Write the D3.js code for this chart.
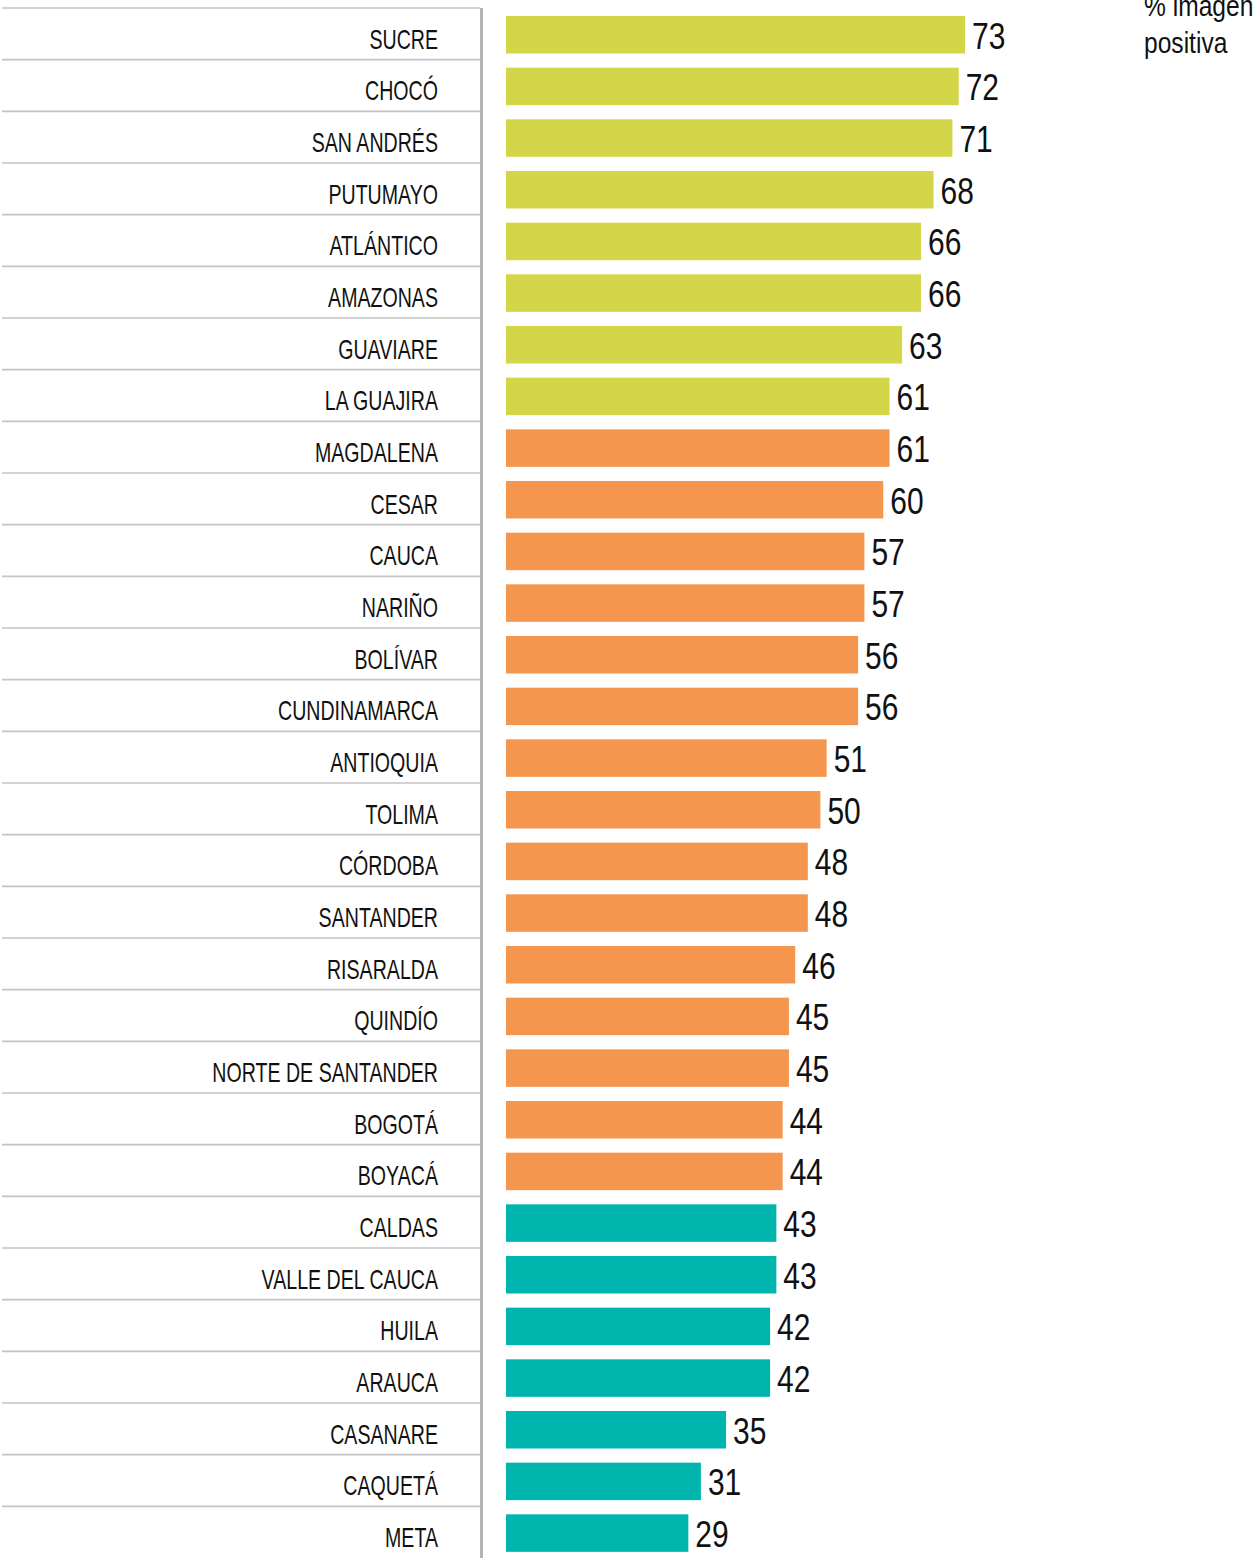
<!DOCTYPE html>
<html>
<head>
<meta charset="utf-8">
<script src="https://cdn.jsdelivr.net/npm/d3@7"></script>
<style>
  html, body { margin: 0; padding: 0; background: #fff; }
  svg { display: block; }
  text { font-family: "Liberation Sans", Arial, Helvetica, sans-serif; fill: #111; }
</style>
</head>
<body>
<svg id="chart" width="1259" height="1558"></svg>
<script>
const departments = ["SUCRE","CHOCÓ","SAN ANDRÉS","PUTUMAYO","ATLÁNTICO","AMAZONAS","GUAVIARE","LA GUAJIRA",
  "MAGDALENA","CESAR","CAUCA","NARIÑO","BOLÍVAR","CUNDINAMARCA","ANTIOQUIA","TOLIMA","CÓRDOBA","SANTANDER",
  "RISARALDA","QUINDÍO","NORTE DE SANTANDER","BOGOTÁ","BOYACÁ",
  "CALDAS","VALLE DEL CAUCA","HUILA","ARAUCA","CASANARE","CAQUETÁ","META"];
const positiveImage = [73,72,71,68,66,66,63,61, 61,60,57,57,56,56,51,50,48,48,46,45,45,44,44, 43,43,42,42,35,31,29];
const groups = ["high","high","high","high","high","high","high","high",
  "mid","mid","mid","mid","mid","mid","mid","mid","mid","mid","mid","mid","mid","mid","mid",
  "low","low","low","low","low","low","low"];
const groupNames = ["high","mid","low"];
const groupColors = ["#d4d64a","#f5964e","#00b5ad"];
const legendLines = ["% imagen", "positiva"];

const rows = departments.map((d, i) => ({ name: d, value: positiveImage[i], group: groups[i] }));

const svg = d3.select("#chart");
const y = d3.scaleBand().domain(departments).range([8, 1558]).paddingInner(0).paddingOuter(0);
const x = d3.scaleLinear().domain([0, 73]).range([506, 965]);
const color = d3.scaleOrdinal().domain(groupNames).range(groupColors);

const barOffset = 8, barH = 37.5;

// row separators
svg.append("g").selectAll("line")
  .data(departments)
  .join("line")
  .attr("x1", 2).attr("x2", 480)
  .attr("y1", d => y(d)).attr("y2", d => y(d))
  .attr("stroke", "#c4c4c4").attr("stroke-width", 1.6);

// vertical divider
svg.append("line")
  .attr("x1", 481.5).attr("x2", 481.5)
  .attr("y1", y.range()[0]).attr("y2", 1558)
  .attr("stroke", "#b4b4b4").attr("stroke-width", 3);

// category labels
svg.append("g").selectAll("text")
  .data(rows)
  .join("text")
  .attr("transform", d => `translate(438,${y(d.name) + barOffset + barH / 2 + 14}) scale(0.70,1)`)
  .attr("text-anchor", "end")
  .attr("font-size", 28)
  .text(d => d.name);

// bars
svg.append("g").selectAll("rect")
  .data(rows)
  .join("rect")
  .attr("x", x(0))
  .attr("y", d => y(d.name) + barOffset)
  .attr("width", d => x(d.value) - x(0))
  .attr("height", barH)
  .attr("fill", d => color(d.group));

// value labels
svg.append("g").selectAll("text")
  .data(rows)
  .join("text")
  .attr("transform", d => `translate(${x(d.value) + 7},${y(d.name) + barOffset + barH / 2 + 14}) scale(0.81,1)`)
  .attr("font-size", 37)
  .text(d => d.value);

// legend title
svg.append("g").selectAll("text")
  .data(legendLines)
  .join("text")
  .attr("transform", (d, i) => `translate(1144,${16 + i * 37}) scale(0.82,1)`)
  .attr("font-size", 30)
  .attr("fill", "#333")
  .text(d => d);
</script>
</body>
</html>
